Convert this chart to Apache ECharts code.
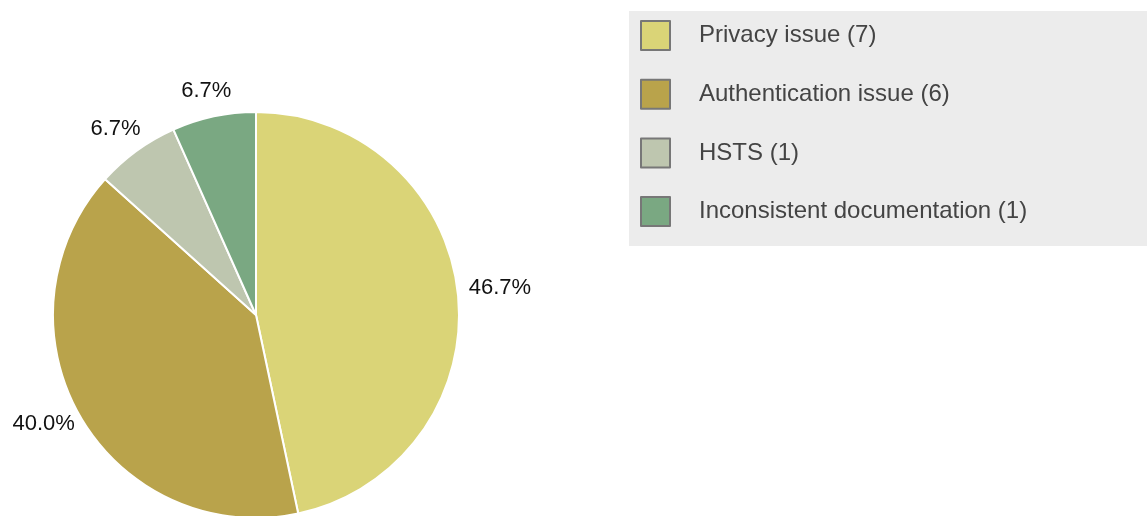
<!DOCTYPE html>
<html>
<head>
<meta charset="utf-8">
<script src="https://cdn.jsdelivr.net/npm/echarts@6/dist/echarts.min.js"></script>
<style>
html,body{margin:0;padding:0;background:#fff;}
#chart{width:1147px;height:516px;}
</style>
</head>
<body>
<div id="chart"></div>
<script>
const categories = ['Privacy issue', 'Authentication issue', 'HSTS', 'Inconsistent documentation'];
const counts = [7, 6, 1, 1];
const colors = ['#dad477', '#b9a34b', '#bec6af', '#7aa882'];

const chart = echarts.init(document.getElementById('chart'), null, {renderer: 'canvas'});
const total = counts.reduce((a, b) => a + b, 0);
const FONT = '"Liberation Sans", Arial, sans-serif';
const LABEL_GAP = 11;
const LABEL_RAISE = 4;

// Place each percentage label just outside its slice, offset along the
// slice's mid-angle (taken from the library's own sector layout).
function placeLabel(params) {
  const data = chart.getModel().getSeriesByIndex(params.seriesIndex).getData();
  const lay = data.getItemLayout(params.dataIndex);
  const mid = (lay.startAngle + lay.endAngle) / 2;
  const dx = Math.cos(mid), dy = Math.sin(mid);
  const w = params.labelRect.width, h = params.labelRect.height;
  const d = lay.r + LABEL_GAP;
  return {
    x: lay.cx + dx * d + dx * w / 2,
    y: lay.cy + dy * d + dy * h / 2 - LABEL_RAISE,
    align: 'center',
    verticalAlign: 'middle'
  };
}

chart.setOption({
  animation: false,
  color: colors,
  legend: {
    orient: 'vertical',
    left: 629,
    top: 11,
    padding: [9, 300, 19, 11],
    backgroundColor: '#ececec',
    itemWidth: 29,
    itemHeight: 29,
    itemGap: 27.7,
    icon: 'rect',
    itemStyle: {borderColor: '#777', borderWidth: 2},
    formatter: function (name) {
      const i = categories.indexOf(name);
      return name + ' (' + counts[i] + ')';
    },
    textStyle: {fontFamily: FONT, fontSize: 24, lineHeight: 29, color: '#444', padding: [0, 0, 0, 24]}
  },
  series: [{
    type: 'pie',
    center: [256, 315],
    radius: 203,
    startAngle: 90,
    clockwise: true,
    avoidLabelOverlap: false,
    itemStyle: {borderColor: '#fff', borderWidth: 2},
    label: {
      show: true,
      position: 'outside',
      fontFamily: FONT,
      fontSize: 22,
      color: '#111',
      formatter: function (p) { return (p.value / total * 100).toFixed(1) + '%'; }
    },
    labelLine: {show: false, length: 12, length2: 0},
    labelLayout: placeLabel,
    data: categories.map((c, i) => ({name: c, value: counts[i]}))
  }]
});
</script>
</body>
</html>
